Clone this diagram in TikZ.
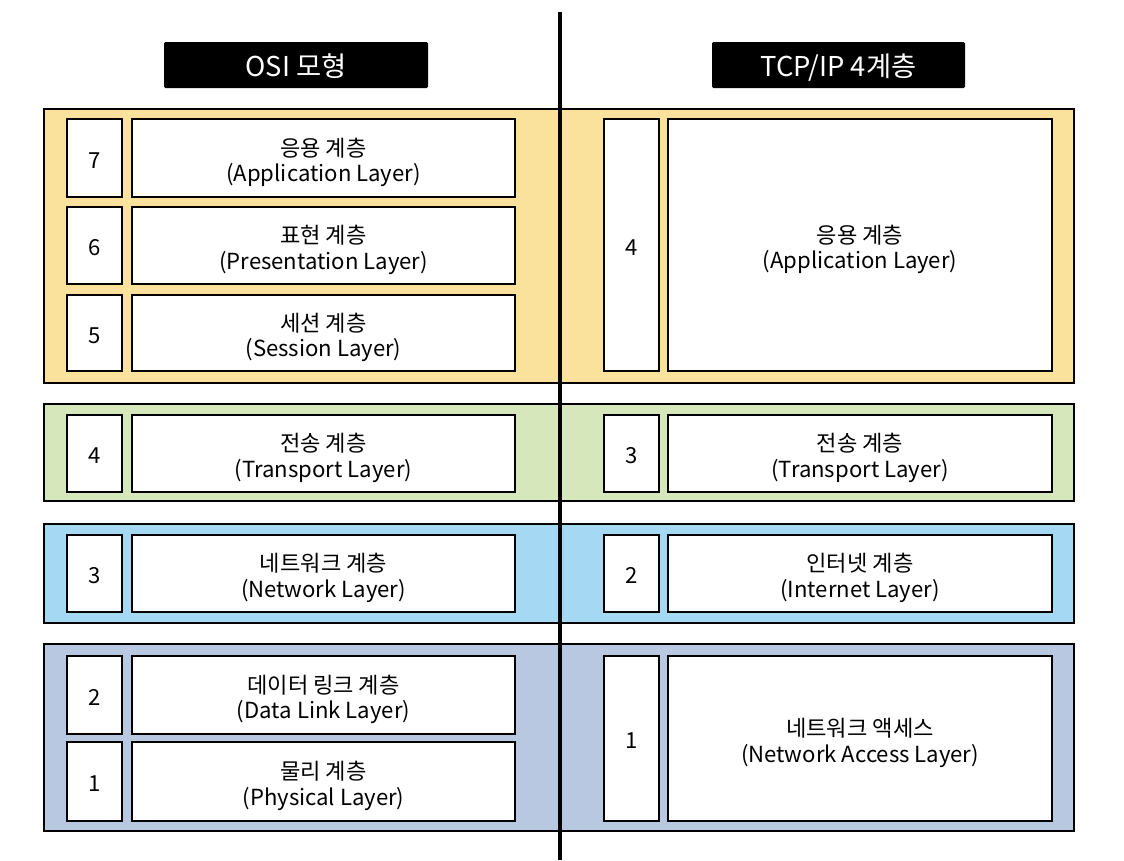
\documentclass[tikz,border=0pt]{standalone}
\usepackage{fontspec}
\setmainfont{Noto Sans CJK KR}
\usetikzlibrary{fit}
\definecolor{cyel}{HTML}{FAE19C}
\definecolor{cgrn}{HTML}{D7E7BC}
\definecolor{cblu}{HTML}{A5D9F3}
\definecolor{cslt}{HTML}{B8C8E0}
\tikzset{
  grp/.style={draw=black, line width=1.5pt, inner sep=0pt},
  cell/.style={draw=black, fill=white, line width=1.5pt, inner sep=0pt},
  lbl/.style={anchor=base, inner sep=0pt, align=center, yshift=-17.8pt,
    font=\fontsize{16.6pt}{19.3pt}\selectfont},
  num/.style={anchor=base, inner sep=0pt, yshift=-7.5pt,
    font=\fontsize{16.6pt}{19.3pt}\selectfont},
  hdr/.style={fill=black, inner sep=0pt, rounded corners=1pt},
  hdrtxt/.style={anchor=base, inner sep=0pt, text=white, yshift=-8.8pt,
    font=\fontsize{20.5pt}{24pt}\selectfont},
  divider/.style={line width=2.3pt, black}
}
\begin{document}
\begin{tikzpicture}[x=0.75pt,y=-0.75pt]
\useasboundingbox (0,0) rectangle (1124,860);
% headers
\node[hdr, fit={(164,42)(428,88)}] (hosi) {};
\node[hdrtxt] (hosit) at (hosi.center) {OSI 모형};
\node[hdr, fit={(712,42)(965,88)}] (htcp) {};
\node[hdrtxt] (htcpt) at (htcp.center) {TCP/IP 4계층};
% groups
\node[grp, fill=cyel, fit={(44,109)(1074,383)}] (g1) {};
\node[grp, fill=cgrn, fit={(44,404)(1074,501)}] (g2) {};
\node[grp, fill=cblu, fit={(44,524)(1074,623)}] (g3) {};
\node[grp, fill=cslt, fit={(44,644)(1074,831)}] (g4) {};
% OSI cells
\node[cell, fit={(67,119)(122,197)}] (o7n) {};
\node[cell, fit={(132,119)(515,197)}] (o7) {};
\node[cell, fit={(67,207)(122,284)}] (o6n) {};
\node[cell, fit={(132,207)(515,284)}] (o6) {};
\node[cell, fit={(67,295)(122,371)}] (o5n) {};
\node[cell, fit={(132,295)(515,371)}] (o5) {};
\node[cell, fit={(67,415)(122,492)}] (o4n) {};
\node[cell, fit={(132,415)(515,492)}] (o4) {};
\node[cell, fit={(67,535)(122,612)}] (o3n) {};
\node[cell, fit={(132,535)(515,612)}] (o3) {};
\node[cell, fit={(67,656)(122,734)}] (o2n) {};
\node[cell, fit={(132,656)(515,734)}] (o2) {};
\node[cell, fit={(67,742)(122,821)}] (o1n) {};
\node[cell, fit={(132,742)(515,821)}] (o1) {};
% TCP/IP cells
\node[cell, fit={(604,119)(659,371)}] (t4n) {};
\node[cell, fit={(668,119)(1052,371)}] (t4) {};
\node[cell, fit={(604,415)(659,492)}] (t3n) {};
\node[cell, fit={(668,415)(1052,492)}] (t3) {};
\node[cell, fit={(604,535)(659,612)}] (t2n) {};
\node[cell, fit={(668,535)(1052,612)}] (t2) {};
\node[cell, fit={(604,656)(659,821)}] (t1n) {};
\node[cell, fit={(668,656)(1052,821)}] (t1) {};
% texts
\node[num] (o7nt) at (o7n.center) {7};
\node[lbl] (o7t) at (o7.center) {응용 계층\\(Application Layer)};
\node[num] (o6nt) at (o6n.center) {6};
\node[lbl] (o6t) at (o6.center) {표현 계층\\(Presentation Layer)};
\node[num] (o5nt) at (o5n.center) {5};
\node[lbl] (o5t) at (o5.center) {세션 계층\\(Session Layer)};
\node[num] (o4nt) at (o4n.center) {4};
\node[lbl] (o4t) at (o4.center) {전송 계층\\(Transport Layer)};
\node[num] (o3nt) at (o3n.center) {3};
\node[lbl] (o3t) at (o3.center) {네트워크 계층\\(Network Layer)};
\node[num] (o2nt) at (o2n.center) {2};
\node[lbl] (o2t) at (o2.center) {데이터 링크 계층\\(Data Link Layer)};
\node[num] (o1nt) at (o1n.center) {1};
\node[lbl] (o1t) at (o1.center) {물리 계층\\(Physical Layer)};
\node[num] (t4nt) at (t4n.center) {4};
\node[lbl] (t4t) at (t4.center) {응용 계층\\(Application Layer)};
\node[num] (t3nt) at (t3n.center) {3};
\node[lbl] (t3t) at (t3.center) {전송 계층\\(Transport Layer)};
\node[num] (t2nt) at (t2n.center) {2};
\node[lbl] (t2t) at (t2.center) {인터넷 계층\\(Internet Layer)};
\node[num] (t1nt) at (t1n.center) {1};
\node[lbl] (t1t) at (t1.center) {네트워크 액세스\\(Network Access Layer)};
% divider
\coordinate (dtop) at (560,12);
\coordinate (dbot) at (560,860);
\draw[divider] (dtop) -- (dbot);
\end{tikzpicture}
\end{document}
